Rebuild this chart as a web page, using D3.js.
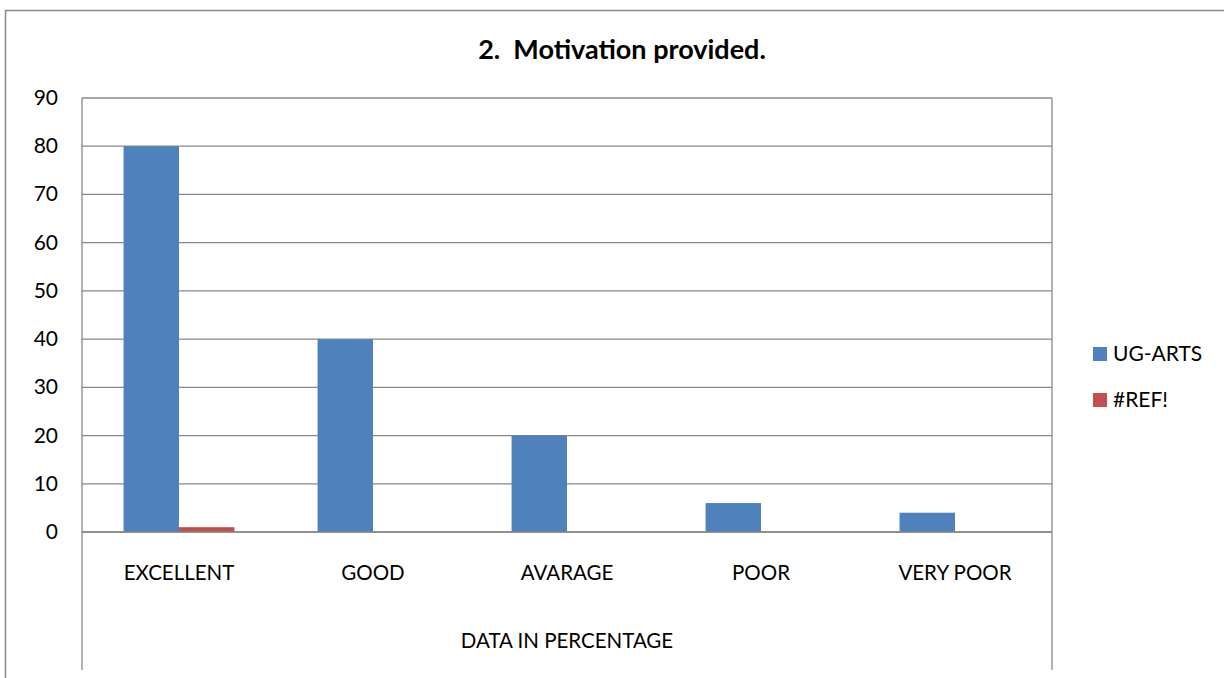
<!DOCTYPE html>
<html>
<head>
<meta charset="utf-8">
<script src="https://cdn.jsdelivr.net/npm/d3@7"></script>
<style>
  body { margin: 0; background: #fff; }
  svg text { font-family: Lato, "Open Sans", sans-serif; fill: #000; white-space: pre; }
</style>
</head>
<body>
<div id="chart"></div>
<script>
var categories = ["EXCELLENT", "GOOD", "AVARAGE", "POOR", "VERY POOR"];
var seriesNames = ["UG-ARTS", "#REF!"];
var ugArts = [80, 40, 20, 6, 4];
var refErr = [1, 0, 0, 0, 0];
var yTicks = [0, 10, 20, 30, 40, 50, 60, 70, 80, 90];
var axisTitle = "DATA IN PERCENTAGE";
var chartTitle = "2.  Motivation provided.";

var width = 1224, height = 678;
var plot = {left: 82, top: 98, right: 1052, bottom: 532};
var colors = ["#4F81BD", "#C0504D"];

var svg = d3.select("#chart").append("svg")
  .attr("width", width)
  .attr("height", height);

// outer chart border (runs off the right and bottom edges)
svg.append("rect")
  .attr("x", 5.5).attr("y", 10.5)
  .attr("width", 1240).attr("height", 700)
  .attr("fill", "none")
  .attr("stroke", "#888")
  .attr("stroke-width", 1.5);

svg.append("text")
  .attr("x", 622).attr("y", 59)
  .attr("text-anchor", "middle")
  .style("font-weight", "bold")
  .style("font-size", "27px")
  .text(chartTitle);

var x = d3.scaleBand()
  .domain(categories)
  .range([plot.left, plot.right]);

var y = d3.scaleLinear()
  .domain([0, 90])
  .range([plot.bottom, plot.top]);

// two bars per category, gap width 150%
var bw = x.bandwidth();
var x1 = d3.scaleBand()
  .domain(seriesNames)
  .range([bw * 0.75 / 3.5, bw * 2.75 / 3.5]);

// gridlines
svg.append("g").selectAll("line")
  .data(yTicks)
  .enter().append("line")
  .attr("x1", plot.left).attr("x2", plot.right)
  .attr("y1", function(d) { return y(d); })
  .attr("y2", function(d) { return y(d); })
  .attr("stroke", "#888")
  .attr("stroke-width", 1.3);

// y axis labels
svg.append("g").selectAll("text")
  .data(yTicks)
  .enter().append("text")
  .attr("x", 58)
  .attr("y", function(d) { return y(d) + 7; })
  .attr("text-anchor", "end")
  .style("font-size", "21px")
  .text(function(d) { return d; });

// left axis and right edge running down through the category area
svg.append("line")
  .attr("x1", plot.left).attr("x2", plot.left)
  .attr("y1", plot.top).attr("y2", 670)
  .attr("stroke", "#888").attr("stroke-width", 1.3);
svg.append("line")
  .attr("x1", plot.right).attr("x2", plot.right)
  .attr("y1", plot.top).attr("y2", 670)
  .attr("stroke", "#888").attr("stroke-width", 1.3);

var series = [ugArts, refErr];

var groups = svg.append("g").selectAll("g")
  .data(categories)
  .enter().append("g")
  .attr("transform", function(d) { return "translate(" + x(d) + ",0)"; });

groups.selectAll("rect")
  .data(function(d, i) {
    return seriesNames.map(function(s, j) { return {name: s, value: series[j][i], idx: j}; });
  })
  .enter().append("rect")
  .attr("x", function(d) { return x1(d.name); })
  .attr("width", x1.bandwidth())
  .attr("y", function(d) { return y(d.value); })
  .attr("height", function(d) { return y(0) - y(d.value); })
  .attr("fill", function(d) { return colors[d.idx]; });

// baseline on top of bars
svg.append("line")
  .attr("x1", plot.left).attr("x2", plot.right)
  .attr("y1", y(0)).attr("y2", y(0))
  .attr("stroke", "#888").attr("stroke-width", 1.3);

// category labels
svg.append("g").selectAll("text")
  .data(categories)
  .enter().append("text")
  .attr("x", function(d) { return x(d) + x.bandwidth() / 2; })
  .attr("y", 580)
  .attr("text-anchor", "middle")
  .style("font-size", "20.5px")
  .text(function(d) { return d; });

svg.append("text")
  .attr("x", (plot.left + plot.right) / 2)
  .attr("y", 648)
  .attr("text-anchor", "middle")
  .style("font-size", "20.5px")
  .text(axisTitle);

// legend
var legend = svg.append("g").selectAll("g")
  .data(seriesNames)
  .enter().append("g")
  .attr("transform", function(d, i) { return "translate(1093," + (347 + i * 46) + ")"; });

legend.append("rect")
  .attr("width", 14).attr("height", 14)
  .attr("fill", function(d, i) { return colors[i]; });

legend.append("text")
  .attr("x", 20).attr("y", 14)
  .style("font-size", "21px")
  .text(function(d) { return d; });
</script>
</body>
</html>
